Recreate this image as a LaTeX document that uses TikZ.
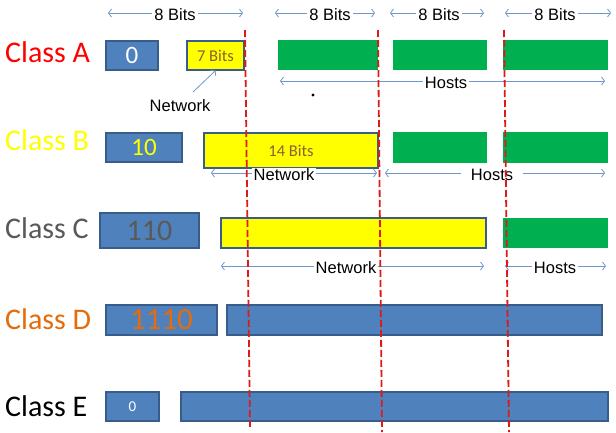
\documentclass[tikz,border=0pt]{standalone}
\usepackage{fontspec}
\setmainfont{Liberation Sans}
\newfontfamily\calib{Carlito}
\usetikzlibrary{arrows.meta}
\definecolor{boxblue}{HTML}{4F81BD}
\definecolor{boxedge}{HTML}{385D8A}
\definecolor{hostgreen}{HTML}{00B050}
\definecolor{netyellow}{HTML}{FFFF00}
\definecolor{arrowblue}{HTML}{7096CC}
\definecolor{bitsbrown}{HTML}{8A6030}
\definecolor{dashred}{HTML}{E01818}
\definecolor{classc}{HTML}{595959}
\definecolor{classd}{HTML}{E46C0A}
\tikzset{
  bluebox/.style={draw=boxedge, line width=1.1pt, fill=boxblue, inner sep=0pt},
  yellowbox/.style={draw=boxedge, line width=1.1pt, fill=netyellow, inner sep=0pt, text=bitsbrown, font=\calib\fontsize{16.5}{19}\selectfont},
  greenbox/.style={fill=hostgreen, inner sep=0pt},
  classlbl/.style={anchor=west, inner sep=0pt, font=\calib\fontsize{30}{34}\selectfont},
  spanlbl/.style={fill=white, inner xsep=2pt, inner ysep=1pt, font=\fontsize{16.5}{19}\selectfont},
  spanarrow/.style={draw=arrowblue, line width=0.8pt, {Straight Barb[length=3pt,width=8pt]}-{Straight Barb[length=3pt,width=8pt]}},
  onearrow/.style={draw=arrowblue, line width=0.8pt, -{Straight Barb[length=3pt,width=8pt]}},
  divider/.style={draw=dashred, line width=1.8pt, dash pattern=on 7pt off 3pt}
}
\begin{document}
\begin{tikzpicture}[x=1pt,y=-1pt]
\useasboundingbox (0,0) rectangle (616,432);
\fill[white] (0,0) rectangle (616,432);

% top bit spans
\coordinate (t1l) at (108,13); \coordinate (t1r) at (243,13);
\coordinate (t2l) at (275,13); \coordinate (t2r) at (375,13);
\coordinate (t3l) at (390,13); \coordinate (t3r) at (484,13);
\coordinate (t4l) at (505,13); \coordinate (t4r) at (611,13);
\draw[spanarrow] (t1l) -- (t1r);
\draw[spanarrow] (t2l) -- (t2r);
\draw[spanarrow] (t3l) -- (t3r);
\draw[spanarrow] (t4l) -- (t4r);
\node[spanlbl] (b1) at (175,15) {8 Bits};
\node[spanlbl] (b2) at (330,15) {8 Bits};
\node[spanlbl] (b3) at (439,15) {8 Bits};
\node[spanlbl] (b4) at (555,15) {8 Bits};

% class labels
\node[classlbl, text=red] (ca) at (5,52) {Class A};
\node[classlbl, text=netyellow] (cb) at (5,140) {Class B};
\node[classlbl, text=classc] (cc) at (5,228) {Class C};
\node[classlbl, text=classd] (cd) at (5,319) {Class D};
\node[classlbl, text=black] (ce) at (5,406) {Class E};

% Class A
\node[bluebox, minimum width=52, minimum height=29, text=white, font=\calib\fontsize{25}{28}\selectfont] (a0) at (132,55.5) {0};
\node[yellowbox, minimum width=57, minimum height=29] (a7) at (215.5,55.5) {7 Bits};
\node[greenbox, minimum width=100, minimum height=30] (ag1) at (328,55) {};
\node[greenbox, minimum width=94, minimum height=30] (ag2) at (440,55) {};
\node[greenbox, minimum width=105, minimum height=30] (ag3) at (555.5,55) {};
\coordinate (ahl) at (280,81); \coordinate (ahr) at (605,81);
\draw[spanarrow] (ahl) -- (ahr);
\node[spanlbl] (ah) at (446,83) {Hosts};
\node[inner sep=0pt, font=\fontsize{16.5}{19}\selectfont] (anet) at (180,106) {Network};
\coordinate (anetarr) at (193,92);
\draw[onearrow] (anetarr) -- (a7.south);
\fill (313,95) circle (1.6);

% Class B
\node[bluebox, minimum width=76, minimum height=29, text=netyellow, font=\calib\fontsize{25}{28}\selectfont] (b10) at (144,147.5) {10};
\node[yellowbox, minimum width=174, minimum height=35] (b14) at (291,150.5) {14 Bits};
\node[greenbox, minimum width=94, minimum height=31] (bg1) at (440,147.5) {};
\node[greenbox, minimum width=105, minimum height=31] (bg2) at (555.5,147.5) {};
\coordinate (bnl) at (211,173); \coordinate (bnr) at (377,173);
\coordinate (bhl) at (385,173); \coordinate (bhr) at (605,173);
\draw[spanarrow] (bnl) -- (bnr);
\draw[spanarrow] (bhl) -- (bhr);
\node[spanlbl] (bn) at (284,175) {Network};
\node[spanlbl, inner xsep=10pt] (bh) at (492,175) {Hosts};

% Class C
\node[bluebox, minimum width=99, minimum height=35, text=classc, font=\calib\fontsize{30}{34}\selectfont] (c110) at (149.5,230.5) {110};
\node[yellowbox, minimum width=265, minimum height=30] (cy) at (353.5,233) {};
\node[greenbox, minimum width=105, minimum height=30] (cg) at (555.5,233) {};
\coordinate (cnl) at (221,266); \coordinate (cnr) at (484,266);
\coordinate (chl) at (505,266); \coordinate (chr) at (606,266);
\draw[spanarrow] (cnl) -- (cnr);
\draw[spanarrow] (chl) -- (chr);
\node[spanlbl] (cn) at (346,268) {Network};
\node[spanlbl] (ch) at (555,268) {Hosts};

% Class D
\node[bluebox, minimum width=111, minimum height=30, text=classd, font=\calib\fontsize{31}{34}\selectfont] (d1110) at (161.5,320) {1110};
\node[bluebox, minimum width=375, minimum height=30] (dl) at (414.5,320) {};

% Class E
\node[bluebox, minimum width=53, minimum height=29, text=white, font=\calib\fontsize{15}{18}\selectfont] (e0) at (132.5,406.5) {0};
\node[bluebox, minimum width=427, minimum height=29] (el) at (394.5,406.5) {};

% octet dividers
\coordinate (d1t) at (245,30); \coordinate (d1b) at (250,428);
\coordinate (d2t) at (378,30); \coordinate (d2b) at (382,432);
\coordinate (d3t) at (504,30); \coordinate (d3b) at (509,432);
\draw[divider] (d1t) -- (d1b);
\draw[divider] (d2t) -- (d2b);
\draw[divider] (d3t) -- (d3b);
\end{tikzpicture}
\end{document}
